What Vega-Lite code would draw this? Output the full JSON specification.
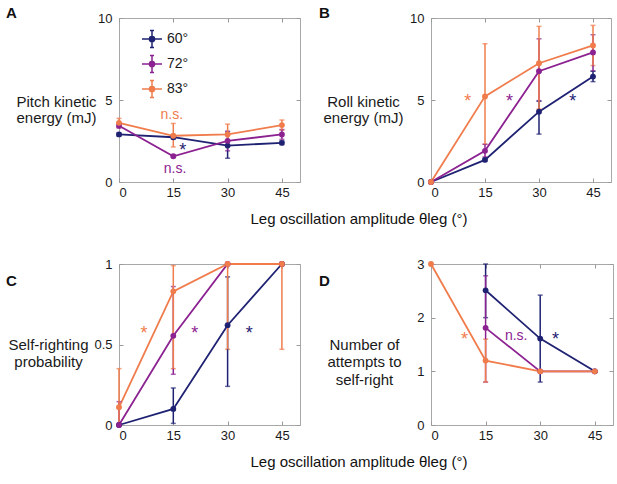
{
  "$schema": "https://vega.github.io/schema/vega-lite/v6.json",
  "padding": 5,
  "background": "white",
  "config": {
    "font": "Liberation Sans",
    "view": {"stroke": "#a8a8a8", "strokeWidth": 1},
    "axis": {
      "domain": false,
      "grid": false,
      "tickSize": -4,
      "tickColor": "#9a9a9a",
      "labelFontSize": 13,
      "labelColor": "#1a1a1a",
      "titleFontSize": 15,
      "titleFontWeight": "normal",
      "titleColor": "#1a1a1a"
    },
    "axisX": {"labelPadding": 8},
    "axisY": {"labelPadding": 11},
    "title": {"font": "Liberation Sans", "color": "#111111"}
  },
  "datasets": {
    "A": [
      {"amp": 0, "angle": "60°", "value": 2.9, "lo": 2.8, "hi": 3.0},
      {"amp": 15, "angle": "60°", "value": 2.73, "lo": 2.62, "hi": 2.84},
      {"amp": 30, "angle": "60°", "value": 2.22, "lo": 1.45, "hi": 3.05},
      {"amp": 45, "angle": "60°", "value": 2.39, "lo": 2.28, "hi": 2.5},
      {"amp": 0, "angle": "72°", "value": 3.43, "lo": 3.3, "hi": 3.55},
      {"amp": 15, "angle": "72°", "value": 1.57, "lo": 1.5, "hi": 1.65},
      {"amp": 30, "angle": "72°", "value": 2.51, "lo": 1.9, "hi": 3.1},
      {"amp": 45, "angle": "72°", "value": 2.9, "lo": 2.6, "hi": 3.2},
      {"amp": 0, "angle": "83°", "value": 3.61, "lo": 3.33, "hi": 3.88},
      {"amp": 15, "angle": "83°", "value": 2.82, "lo": 2.14, "hi": 3.57},
      {"amp": 30, "angle": "83°", "value": 2.9, "lo": 2.22, "hi": 3.53},
      {"amp": 45, "angle": "83°", "value": 3.47, "lo": 3.16, "hi": 3.78}
    ],
    "B": [
      {"amp": 0, "angle": "60°", "value": 0},
      {"amp": 15, "angle": "60°", "value": 1.35, "lo": 1.25, "hi": 1.45},
      {"amp": 30, "angle": "60°", "value": 4.29, "lo": 2.92, "hi": 4.92},
      {"amp": 45, "angle": "60°", "value": 6.43, "lo": 6.12, "hi": 6.76},
      {"amp": 0, "angle": "72°", "value": 0},
      {"amp": 15, "angle": "72°", "value": 1.9, "lo": 1.53, "hi": 2.3},
      {"amp": 30, "angle": "72°", "value": 6.76, "lo": 4.96, "hi": 8.73},
      {"amp": 45, "angle": "72°", "value": 7.9, "lo": 6.76, "hi": 8.98},
      {"amp": 0, "angle": "83°", "value": 0},
      {"amp": 15, "angle": "83°", "value": 5.22, "lo": 2.3, "hi": 8.43},
      {"amp": 30, "angle": "83°", "value": 7.24, "lo": 4.45, "hi": 9.49},
      {"amp": 45, "angle": "83°", "value": 8.33, "lo": 7.1, "hi": 9.55}
    ],
    "C": [
      {"amp": 0, "angle": "60°", "value": 0},
      {"amp": 15, "angle": "60°", "value": 0.1, "lo": 0.01, "hi": 0.23},
      {"amp": 30, "angle": "60°", "value": 0.62, "lo": 0.24, "hi": 0.92},
      {"amp": 45, "angle": "60°", "value": 1.0},
      {"amp": 0, "angle": "72°", "value": 0, "lo": 0, "hi": 0.145},
      {"amp": 15, "angle": "72°", "value": 0.554, "lo": 0.315, "hi": 0.86},
      {"amp": 30, "angle": "72°", "value": 1.0},
      {"amp": 45, "angle": "72°", "value": 1.0},
      {"amp": 0, "angle": "83°", "value": 0.11, "lo": 0.0, "hi": 0.35},
      {"amp": 15, "angle": "83°", "value": 0.83, "lo": 0.35, "hi": 0.99},
      {"amp": 30, "angle": "83°", "value": 1.0, "lo": 0.47, "hi": 1.0},
      {"amp": 45, "angle": "83°", "value": 1.0, "lo": 0.47, "hi": 1.0}
    ],
    "D": [
      {"amp": 15, "angle": "60°", "value": 2.51, "lo": 2.0, "hi": 3.0},
      {"amp": 30, "angle": "60°", "value": 1.61, "lo": 0.8, "hi": 2.42},
      {"amp": 45, "angle": "60°", "value": 1.0},
      {"amp": 15, "angle": "72°", "value": 1.81, "lo": 0.8, "hi": 2.78},
      {"amp": 30, "angle": "72°", "value": 1.0},
      {"amp": 45, "angle": "72°", "value": 1.0},
      {"amp": 0, "angle": "83°", "value": 3.0},
      {"amp": 15, "angle": "83°", "value": 1.2, "lo": 0.8, "hi": 1.6},
      {"amp": 30, "angle": "83°", "value": 1.0},
      {"amp": 45, "angle": "83°", "value": 1.0}
    ],
    "notesA": [
      {"amp": 14.6, "angle": "83°", "value": 4.1, "note": "n.s."},
      {"amp": 17.6, "angle": "60°", "value": 1.9, "note": "*"},
      {"amp": 15.5, "angle": "72°", "value": 0.78, "note": "n.s."}
    ],
    "notesB": [
      {"amp": 10.2, "angle": "83°", "value": 4.85, "note": "*"},
      {"amp": 21.8, "angle": "72°", "value": 4.85, "note": "*"},
      {"amp": 39.4, "angle": "60°", "value": 4.85, "note": "*"}
    ],
    "notesC": [
      {"amp": 6.9, "angle": "83°", "value": 0.565, "note": "*"},
      {"amp": 20.9, "angle": "72°", "value": 0.565, "note": "*"},
      {"amp": 36, "angle": "60°", "value": 0.565, "note": "*"}
    ],
    "notesD": [
      {"amp": 9.2, "angle": "83°", "value": 1.58, "note": "*"},
      {"amp": 23.4, "angle": "72°", "value": 1.65, "note": "n.s."},
      {"amp": 34.2, "angle": "60°", "value": 1.58, "note": "*"}
    ]
  },
  "spacing": 30,
  "vconcat": [
    {
      "title": {"text": "Leg oscillation amplitude θleg (°)", "orient": "bottom", "fontSize": 15, "fontWeight": "normal", "dx": 245, "offset": 12},
      "spacing": 17,
      "hconcat": [
        {
          "width": 181,
          "height": 164,
          "title": {"text": "A", "anchor": "start", "frame": "group", "dx": -113, "fontSize": 15, "fontWeight": "bold", "offset": -9},
          "resolve": {"axis": {"x": "independent", "y": "independent"}},
          "encoding": {
            "x": {"field": "amp", "type": "quantitative", "title": null, "scale": {"domain": [0, 50]}, "axis": {"values": [0, 15, 30, 45]}},
            "y": {"field": "value", "type": "quantitative", "scale": {"domain": [0, 10]},
              "axis": {"values": [0, 5, 10], "title": ["Pitch kinetic", "energy (mJ)"], "titleAngle": 0, "titleAlign": "center", "titleBaseline": "middle", "titleX": -63, "titleY": 83, "titleLineHeight": 16}},
            "color": {"field": "angle", "type": "nominal",
              "scale": {"domain": ["60°", "72°", "83°"], "range": ["#1f2272", "#8c2291", "#f07c4c"]},
              "legend": {
                "orient": "none", "legendX": 22, "legendY": 10, "title": null,
                "symbolType": "M-1,0H1M0,-0.85V0.85M-0.2,-0.85H0.2M-0.2,0.85H0.2M0.26,0A0.26,0.26 0 1 1 -0.26,0A0.26,0.26 0 1 1 0.26,0Z",
                "symbolSize": 400, "labelFontSize": 14, "labelColor": "#1a1a1a", "rowPadding": 1, "labelOffset": 4,
                "encode": {"symbols": {"update": {"fill": {"scale": "color", "field": "value"}, "stroke": {"scale": "color", "field": "value"}, "strokeWidth": {"value": 1.5}, "opacity": {"value": 1}}}}
              }}
          },
          "layer": [
            {"data": {"name": "A"}, "mark": {"type": "line", "strokeWidth": 1.8}},
            {"data": {"name": "A"}, "transform": [{"filter": "isValid(datum.lo)"}], "mark": {"type": "errorbar", "ticks": {"size": 5}, "thickness": 1.5},
              "encoding": {"x": {"field": "amp", "type": "quantitative", "axis": null}, "y": {"field": "lo", "type": "quantitative", "axis": null}, "y2": {"field": "hi"}}},
            {"data": {"name": "A"}, "mark": {"type": "point", "filled": true, "size": 34, "opacity": 1},
              "encoding": {"x": {"field": "amp", "type": "quantitative", "axis": null}, "y": {"field": "value", "type": "quantitative", "axis": null}}},
            {"data": {"name": "notesA"}, "mark": {"type": "text", "baseline": "middle"},
              "encoding": {
                "x": {"field": "amp", "type": "quantitative", "axis": {"orient": "top", "values": [0, 15, 30, 45], "labels": false, "title": null}},
                "y": {"field": "value", "type": "quantitative", "axis": {"orient": "right", "values": [0, 5, 10], "labels": false, "title": null}},
                "text": {"field": "note"},
                "size": {"condition": {"test": "datum.note === '*'", "value": 18}, "value": 14}}}
          ]
        },
        {
          "width": 180,
          "height": 164,
          "title": {"text": "B", "anchor": "start", "frame": "group", "dx": -112, "fontSize": 15, "fontWeight": "bold", "offset": -9},
          "resolve": {"axis": {"x": "independent", "y": "independent"}},
          "encoding": {
            "x": {"field": "amp", "type": "quantitative", "title": null, "scale": {"domain": [0, 50]}, "axis": {"values": [0, 15, 30, 45]}},
            "y": {"field": "value", "type": "quantitative", "scale": {"domain": [0, 10]},
              "axis": {"values": [0, 5, 10], "title": ["Roll kinetic", "energy (mJ)"], "titleAngle": 0, "titleAlign": "center", "titleBaseline": "middle", "titleX": -68, "titleY": 83, "titleLineHeight": 16}},
            "color": {"field": "angle", "type": "nominal"}
          },
          "layer": [
            {"data": {"name": "B"}, "mark": {"type": "line", "strokeWidth": 1.8}},
            {"data": {"name": "B"}, "transform": [{"filter": "isValid(datum.lo)"}], "mark": {"type": "errorbar", "ticks": {"size": 5}, "thickness": 1.5},
              "encoding": {"x": {"field": "amp", "type": "quantitative", "axis": null}, "y": {"field": "lo", "type": "quantitative", "axis": null}, "y2": {"field": "hi"}}},
            {"data": {"name": "B"}, "mark": {"type": "point", "filled": true, "size": 34, "opacity": 1},
              "encoding": {"x": {"field": "amp", "type": "quantitative", "axis": null}, "y": {"field": "value", "type": "quantitative", "axis": null}}},
            {"data": {"name": "notesB"}, "mark": {"type": "text", "baseline": "middle"},
              "encoding": {
                "x": {"field": "amp", "type": "quantitative", "axis": {"orient": "top", "values": [0, 15, 30, 45], "labels": false, "title": null}},
                "y": {"field": "value", "type": "quantitative", "axis": {"orient": "right", "values": [0, 5, 10], "labels": false, "title": null}},
                "text": {"field": "note"},
                "size": {"condition": {"test": "datum.note === '*'", "value": 18}, "value": 14}}}
          ]
        }
      ]
    },
    {
      "title": {"text": "Leg oscillation amplitude θleg (°)", "orient": "bottom", "fontSize": 15, "fontWeight": "normal", "dx": 245, "offset": 12},
      "spacing": 17,
      "hconcat": [
        {
          "width": 181,
          "height": 161,
          "title": {"text": "C", "anchor": "start", "frame": "group", "dx": -113, "fontSize": 15, "fontWeight": "bold", "offset": -31},
          "resolve": {"axis": {"x": "independent", "y": "independent"}},
          "encoding": {
            "x": {"field": "amp", "type": "quantitative", "title": null, "scale": {"domain": [0, 50]}, "axis": {"values": [0, 15, 30, 45]}},
            "y": {"field": "value", "type": "quantitative", "scale": {"domain": [0, 1]},
              "axis": {"values": [0, 0.5, 1], "format": "~g", "title": ["Self-righting", "probability"], "titleAngle": 0, "titleAlign": "center", "titleBaseline": "middle", "titleX": -71, "titleY": 80, "titleLineHeight": 17.5}},
            "color": {"field": "angle", "type": "nominal"}
          },
          "layer": [
            {"data": {"name": "C"}, "mark": {"type": "line", "strokeWidth": 1.8}},
            {"data": {"name": "C"}, "transform": [{"filter": "isValid(datum.lo)"}], "mark": {"type": "errorbar", "ticks": {"size": 5}, "thickness": 1.5},
              "encoding": {"x": {"field": "amp", "type": "quantitative", "axis": null}, "y": {"field": "lo", "type": "quantitative", "axis": null}, "y2": {"field": "hi"}}},
            {"data": {"name": "C"}, "mark": {"type": "point", "filled": true, "size": 34, "opacity": 1},
              "encoding": {"x": {"field": "amp", "type": "quantitative", "axis": null}, "y": {"field": "value", "type": "quantitative", "axis": null}}},
            {"data": {"name": "notesC"}, "mark": {"type": "text", "baseline": "middle"},
              "encoding": {
                "x": {"field": "amp", "type": "quantitative", "axis": {"orient": "top", "values": [0, 15, 30, 45], "labels": false, "title": null}},
                "y": {"field": "value", "type": "quantitative", "axis": {"orient": "right", "values": [0, 0.5, 1], "labels": false, "title": null}},
                "text": {"field": "note"},
                "size": {"condition": {"test": "datum.note === '*'", "value": 18}, "value": 14}}}
          ]
        },
        {
          "width": 182,
          "height": 161,
          "title": {"text": "D", "anchor": "start", "frame": "group", "dx": -112, "fontSize": 15, "fontWeight": "bold", "offset": -31},
          "resolve": {"axis": {"x": "independent", "y": "independent"}},
          "encoding": {
            "x": {"field": "amp", "type": "quantitative", "title": null, "scale": {"domain": [0, 50]}, "axis": {"values": [0, 15, 30, 45]}},
            "y": {"field": "value", "type": "quantitative", "scale": {"domain": [0, 3]},
              "axis": {"values": [0, 1, 2, 3], "title": ["Number of", "attempts to", "self-right"], "titleAngle": 0, "titleAlign": "center", "titleBaseline": "middle", "titleX": -67, "titleY": 80, "titleLineHeight": 17.5}},
            "color": {"field": "angle", "type": "nominal"}
          },
          "layer": [
            {"data": {"name": "D"}, "mark": {"type": "line", "strokeWidth": 1.8}},
            {"data": {"name": "D"}, "transform": [{"filter": "isValid(datum.lo)"}], "mark": {"type": "errorbar", "ticks": {"size": 5}, "thickness": 1.5},
              "encoding": {"x": {"field": "amp", "type": "quantitative", "axis": null}, "y": {"field": "lo", "type": "quantitative", "axis": null}, "y2": {"field": "hi"}}},
            {"data": {"name": "D"}, "mark": {"type": "point", "filled": true, "size": 34, "opacity": 1},
              "encoding": {"x": {"field": "amp", "type": "quantitative", "axis": null}, "y": {"field": "value", "type": "quantitative", "axis": null}}},
            {"data": {"name": "notesD"}, "mark": {"type": "text", "baseline": "middle"},
              "encoding": {
                "x": {"field": "amp", "type": "quantitative", "axis": {"orient": "top", "values": [0, 15, 30, 45], "labels": false, "title": null}},
                "y": {"field": "value", "type": "quantitative", "axis": {"orient": "right", "values": [0, 1, 2, 3], "labels": false, "title": null}},
                "text": {"field": "note"},
                "size": {"condition": {"test": "datum.note === '*'", "value": 18}, "value": 14}}}
          ]
        }
      ]
    }
  ]
}
